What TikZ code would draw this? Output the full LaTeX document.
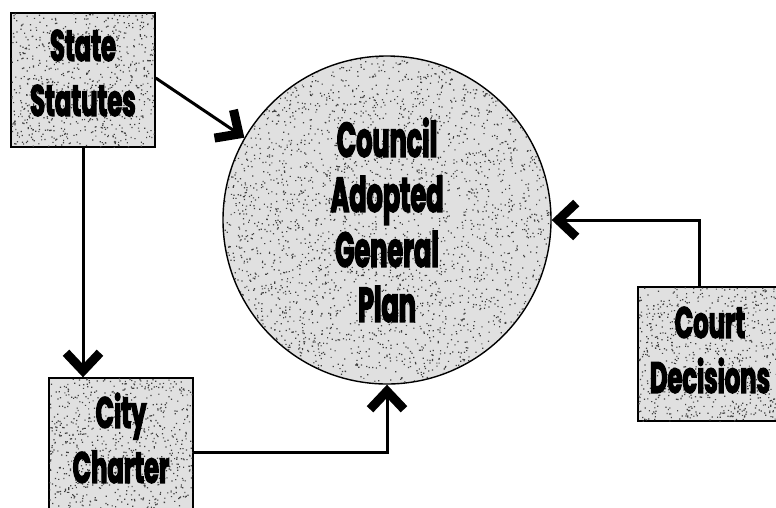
\documentclass[tikz,border=0pt]{standalone}
\usepackage{fontspec}
\newfontfamily\boxfont[FakeStretch=0.55,FakeBold=2.5]{Poppins}
\newfontfamily\planfont[FakeStretch=0.52,FakeBold=2.5]{Poppins}
\usetikzlibrary{arrows.meta}
\begin{document}
\begin{tikzpicture}[x=1pt,y=-1pt,
  stip/.style={fill=black!12,draw=black,line width=1.4pt},
  boxnode/.style={stip,rectangle,minimum width=144pt,minimum height=134pt,inner sep=0pt},
  boxtext/.style={align=center,inner sep=0pt,font=\boxfont\bfseries\fontsize{44}{55}\selectfont},
  plannode/.style={stip,circle,minimum size=328pt,inner sep=0pt,align=center,
     font=\planfont\bfseries\fontsize{49}{55}\selectfont},
  dot/.style={fill=black!75},
  conn/.style={line width=3pt,-{Straight Barb[length=18pt,width=34pt,line width=9pt]}}]
\useasboundingbox (0,0) rectangle (776,507);
\pgfmathsetseed{4242}
\node[plannode] (gp) at (387,220) {};
\begin{scope}
\clip (gp.center) circle (163pt);
\fill[dot] \foreach \i in {1,...,3400} {(222+330*rnd,55+330*rnd) rectangle ++(1.2,1.2)};
\end{scope}
\node[align=center,inner sep=0pt,font=\planfont\bfseries\fontsize{49}{55}\selectfont] (gpt) at (gp.center) {Council\\Adopted\\General\\Plan};
\node[boxnode] (ss) at (83,80) {};
\node[boxnode] (cc) at (121,445) {};
\node[boxnode] (cd) at (710,354) {};
\begin{scope}
\clip ([shift={(1,-1)}]ss.north west) rectangle ([shift={(-1,1)}]ss.south east);
\fill[dot] \foreach \i in {1,...,780} {(11+144*rnd,13+134*rnd) rectangle ++(1.2,1.2)};
\end{scope}
\begin{scope}
\clip ([shift={(1,-1)}]cc.north west) rectangle ([shift={(-1,1)}]cc.south east);
\fill[dot] \foreach \i in {1,...,780} {(49+144*rnd,378+134*rnd) rectangle ++(1.2,1.2)};
\end{scope}
\begin{scope}
\clip ([shift={(1,-1)}]cd.north west) rectangle ([shift={(-1,1)}]cd.south east);
\fill[dot] \foreach \i in {1,...,780} {(638+144*rnd,287+134*rnd) rectangle ++(1.2,1.2)};
\end{scope}
\node[boxtext] (sst) at (83,73) {State\\Statutes};
\node[boxtext] (cct) at (121,438) {City\\Charter};
\node[boxtext] (cdt) at (710,350) {Court\\Decisions};
\draw[conn] ([yshift=2pt]ss.east) -- (gp.150);
\draw[conn] (ss.south) -- (ss.south |- cc.north);
\draw[conn] ([yshift=-7pt]cc.east) -| (gp.south);
\draw[conn] ([xshift=-11pt]cd.north) |- (gp.east);
\end{tikzpicture}
\end{document}
